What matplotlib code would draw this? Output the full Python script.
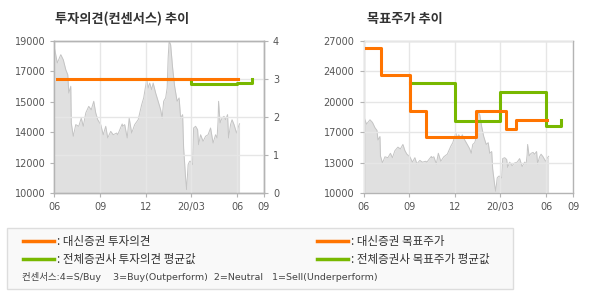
import numpy as np
import pandas as pd
import matplotlib
matplotlib.use('Agg')
import matplotlib.pyplot as plt
import matplotlib.dates as mdates
from matplotlib.patches import Rectangle
from matplotlib.lines import Line2D

plt.rcParams['font.family'] = ['Noto Sans CJK KR', 'DejaVu Sans']

# stock price
price_dates = ['2019-06-02', '2019-06-07', '2019-06-14', '2019-06-19', '2019-06-24', '2019-06-28',
               '2019-06-30', '2019-07-04', '2019-07-05', '2019-07-09', '2019-07-14', '2019-07-20',
               '2019-07-25', '2019-07-29', '2019-08-03', '2019-08-09', '2019-08-14', '2019-08-19',
               '2019-08-23', '2019-08-27', '2019-09-02', '2019-09-07', '2019-09-12', '2019-09-16',
               '2019-09-22', '2019-09-27', '2019-10-04', '2019-10-06', '2019-10-15', '2019-10-16',
               '2019-10-20', '2019-10-25', '2019-10-29', '2019-11-03', '2019-11-09', '2019-11-16',
               '2019-11-23', '2019-11-27', '2019-12-03', '2019-12-06', '2019-12-09', '2019-12-13',
               '2019-12-16', '2019-12-21', '2019-12-26', '2019-12-31', '2020-01-03', '2020-01-06',
               '2020-01-10', '2020-01-13', '2020-01-15', '2020-01-17', '2020-01-20', '2020-01-24',
               '2020-01-28', '2020-02-02', '2020-02-06', '2020-02-09', '2020-02-13', '2020-02-15',
               '2020-02-19', '2020-02-21', '2020-02-24', '2020-02-27', '2020-02-29', '2020-03-04',
               '2020-03-06', '2020-03-10', '2020-03-14', '2020-03-16', '2020-03-20', '2020-03-25',
               '2020-03-30', '2020-04-04', '2020-04-09', '2020-04-14', '2020-04-19', '2020-04-22',
               '2020-04-24', '2020-04-25', '2020-04-28', '2020-05-02', '2020-05-06', '2020-05-09',
               '2020-05-13', '2020-05-15', '2020-05-19', '2020-05-22', '2020-05-26', '2020-05-31',
               '2020-06-04', '2020-06-06']
price = [18480, 17700, 18190, 17890, 17300, 17000,
         15920, 16320, 14150, 13360, 14050, 13950,
         14440, 13950, 14740, 15130, 14930, 15430,
         14740, 14340, 14050, 13450, 13950, 13260,
         13650, 13450, 13550, 13450, 14090, 13950,
         14050, 13260, 14440, 13550, 14050, 14340,
         15230, 15630, 16710, 16220, 16510, 16120,
         16510, 15920, 15430, 14930, 14440, 15430,
         15630, 16220, 17990, 19000, 18780, 17400,
         16320, 15430, 15630, 14440, 14640, 12670,
         10890, 10200, 11680, 11880, 11880, 11680,
         13850, 13950, 13750, 12860, 13450, 13060,
         13360, 13450, 13850, 12960, 13450, 13260,
         14250, 15430, 14150, 14440, 14540, 14340,
         14640, 13260, 14050, 14340, 14050, 13550,
         13950, 14100]

# 대신증권 opinion / target price
ds_dates = ['2019-06-06', '2019-07-06', '2019-09-02', '2019-10-04', '2020-01-13',
            '2020-03-12', '2020-04-01', '2020-06-03']
ds_opinion = [3, 3, 3, 3, 3, 3, 3, 3]
ds_target = [26200, 23200, 19200, 16300, 19200, 17200, 18200, 18200]

# 전체증권사 average
avg_op_dates = ['2019-09-02', '2020-03-01', '2020-06-01', '2020-06-30']
avg_opinion = [3.0, 2.87, 2.9, 3.0]
avg_tp_dates = ['2019-09-02', '2019-12-01', '2020-03-01', '2020-05-31', '2020-06-30']
avg_target = [22300, 18100, 21300, 17500, 18200]

tick_dates = ['2019-06-01', '2019-09-01', '2019-12-01', '2020-03-01', '2020-06-01', '2020-07-25']
tick_labels = ['06', '09', '12', '20/03', '06', '09']

left_ylabels = ['10000', '12000', '14000', '15000', '17000', '19000']
right_ylabels = ['10000', '13000', '17000', '20000', '24000', '27000']

ORANGE = '#ff7400'
GREEN = '#78b800'
GRID = '#e6e6e6'
SPINE = '#b4b4b4'
TXT = '#555555'
LATIN = ['DejaVu Sans', 'Noto Sans CJK KR']

pd_price = pd.to_datetime(price_dates)
xmin, xmax = pd.Timestamp('2019-06-01'), pd.Timestamp('2020-07-25')

W, H = 590, 300
fig = plt.figure(figsize=(W / 100, H / 100), dpi=100)


def style_axes(ax):
    for sp in ax.spines.values():
        sp.set_color(SPINE)
        sp.set_linewidth(1)
    ax.tick_params(colors=SPINE, labelcolor=TXT, labelsize=7, length=3, width=0.8)
    ax.set_xlim(xmin, xmax)
    ax.set_xticks(pd.to_datetime(tick_dates))
    ax.set_xticklabels(tick_labels)
    for lab in ax.get_xticklabels() + ax.get_yticklabels():
        lab.set_family(LATIN)


def draw_price(ax, lo):
    ax.fill_between(pd_price, price, lo, color='#e0e0e0', lw=0, zorder=1)
    ax.plot(pd_price, price, color='#c4c4c4', lw=0.7, zorder=1.5)


# ---- left chart: opinion ----
ax1 = fig.add_axes([54.3 / W, 1 - 193 / H, 209.7 / W, 152 / H])
draw_price(ax1, 10000)
ax1.set_ylim(10000, 19000)
ax1.set_yticks(np.linspace(10000, 19000, 6))
ax1.set_yticklabels(left_ylabels)
style_axes(ax1)
ax1.grid(axis='x', color=GRID, lw=1, zorder=2)
ax1.set_axisbelow(False)

ax1b = ax1.twinx()
ax1b.set_ylim(0, 4)
ax1b.set_yticks([0, 1, 2, 3, 4])
style_axes(ax1b)
ax1b.grid(axis='y', color=GRID, lw=1, zorder=0)
ax1b.step(pd.to_datetime(avg_op_dates), avg_opinion, where='post', color=GREEN, lw=2.2, zorder=3)
ax1b.step(pd.to_datetime(ds_dates), ds_opinion, where='post', color=ORANGE, lw=2.2, zorder=4)

# ---- right chart: target price ----
ax2 = fig.add_axes([363.5 / W, 1 - 193 / H, 209.5 / W, 152 / H])
draw_price(ax2, 10000)
ax2.set_ylim(10000, 27000)
ax2.set_yticks(np.linspace(10000, 27000, 6))
ax2.set_yticklabels(right_ylabels)
style_axes(ax2)
ax2.grid(color=GRID, lw=1, zorder=2)
ax2.set_axisbelow(False)
ax2.step(pd.to_datetime(avg_tp_dates), avg_target, where='post', color=GREEN, lw=2.2, zorder=3)
ax2.step(pd.to_datetime(ds_dates), ds_target, where='post', color=ORANGE, lw=2.2, zorder=4)

# titles
fig.text(55 / W, 1 - 19 / H, '투자의견(컨센서스) 추이', fontsize=9.5, fontweight='bold',
         color='#333333', va='center')
fig.text(367 / W, 1 - 19 / H, '목표주가 추이', fontsize=9.5, fontweight='bold',
         color='#333333', va='center')

# legend box
fig.patches.append(Rectangle((7 / W, 1 - 289 / H), 506 / W, 61 / H, transform=fig.transFigure,
                             facecolor='#f9f9f9', edgecolor='#dddddd', lw=1))
legend_rows = [
    (23, 241, ORANGE, ': 대신증권 투자의견'),
    (23, 259, GREEN, ': 전체증권사 투자의견 평균값'),
    (317, 241, ORANGE, ': 대신증권 목표주가'),
    (317, 259, GREEN, ': 전체증권사 목표주가 평균값'),
]
for x0, y0, col, label in legend_rows:
    fig.lines.append(Line2D([x0 / W, (x0 + 31) / W], [1 - y0 / H, 1 - y0 / H],
                            transform=fig.transFigure, color=col, lw=2.5))
    fig.text((x0 + 34) / W, 1 - y0 / H, label, fontsize=8.3, color='#333333', va='center')

fig.text(22 / W, 1 - 277 / H,
         '컨센서스:4=S/Buy    3=Buy(Outperform)  2=Neutral   1=Sell(Underperform)',
         fontsize=6.8, color='#444444', va='center', family=LATIN)

fig.savefig('out.png', dpi=100)
